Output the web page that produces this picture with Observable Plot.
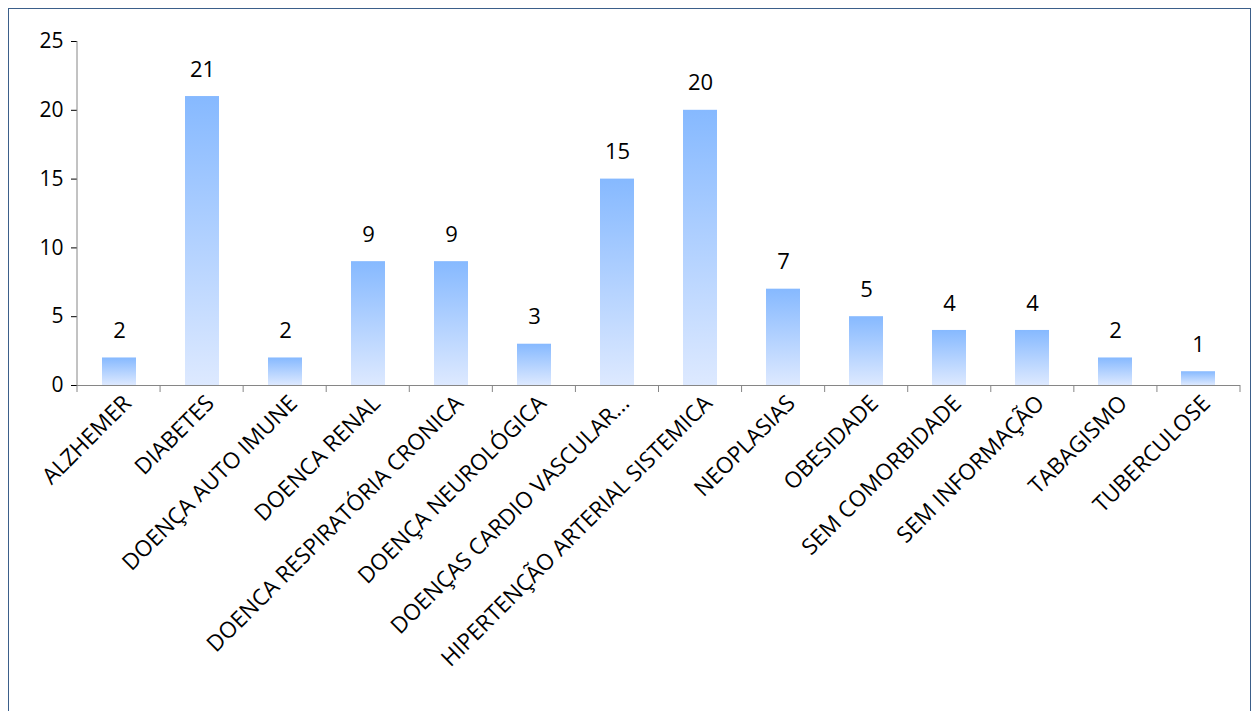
<!DOCTYPE html>
<html><head><meta charset="utf-8">
<script src="https://cdn.jsdelivr.net/npm/d3@7"></script>
<script src="https://cdn.jsdelivr.net/npm/@observablehq/plot@0.6"></script>
<style>
body{margin:0;background:#fff;font-family:"Open Sans",sans-serif}
#frame{position:absolute;left:8px;top:8px;width:1243px;height:720px;border:1.5px solid #3b5f8a;box-sizing:border-box}
#chart{position:absolute;left:0;top:0}
</style></head><body>
<div id="frame"></div><div id="chart"></div>
<script>
const categorias = ["ALZHEMER","DIABETES","DOENÇA AUTO IMUNE","DOENCA RENAL","DOENCA RESPIRATÓRIA CRONICA","DOENÇA NEUROLÓGICA","DOENÇAS CARDIO VASCULAR...","HIPERTENÇÃO ARTERIAL SISTEMICA","NEOPLASIAS","OBESIDADE","SEM COMORBIDADE","SEM INFORMAÇÃO","TABAGISMO","TUBERCULOSE"]
const casos = [2,21,2,9,9,3,15,20,7,5,4,4,2,1]
const yTicks = [0,5,10,15,20,25]

const data = categorias.map((c,i) => ({categoria: c, casos: casos[i]}))

const chart = Plot.plot({
  width: 1259, height: 711,
  marginLeft: 77, marginTop: 41, marginBottom: 326, marginRight: 19,
  style: {fontFamily: "Open Sans, sans-serif", fontSize: "21px", color: "#000", background: "transparent"},
  x: {domain: categorias, paddingInner: 0.59, paddingOuter: 0.295, label: null},
  y: {domain: [0,25], ticks: yTicks, label: null, tickSize: 6, tickPadding: 8},
  marks: [
    Plot.barY(data, {x: "categoria", y: "casos", fill: "url(#grad)"}),
    Plot.text(data, {x: "categoria", y: "casos", text: d => d.casos, dy: -27, fontSize: 22}),
    Plot.axisX({tickSize: 0, tickRotate: -45, tickPadding: 14, fontSize: 22.5, dx: 8}),
    Plot.ruleY([0], {stroke: "#868686"})
  ]
})

const svg = d3.select(chart)
const defs = svg.insert("defs", ":first-child")
const g = defs.append("linearGradient").attr("id","grad").attr("x1",0).attr("y1",0).attr("x2",0).attr("y2",1)
g.append("stop").attr("offset","0%").attr("stop-color","#86b9ff")
g.append("stop").attr("offset","100%").attr("stop-color","#dde9ff")

// eixo Y e marcas entre categorias
const ys = chart.scale("y")
const y0 = ys.apply(0)
svg.append("line").attr("x1",77).attr("x2",77).attr("y1",ys.apply(25)).attr("y2",y0).attr("stroke","#868686")
for (let i = 0; i <= categorias.length; i++) {
  const x = 77 + i*(1240-77)/categorias.length
  svg.append("line").attr("x1",x).attr("x2",x).attr("y1",y0).attr("y2",y0+7).attr("stroke","#868686")
}

d3.select('#chart').append(() => chart)
</script></body></html>
